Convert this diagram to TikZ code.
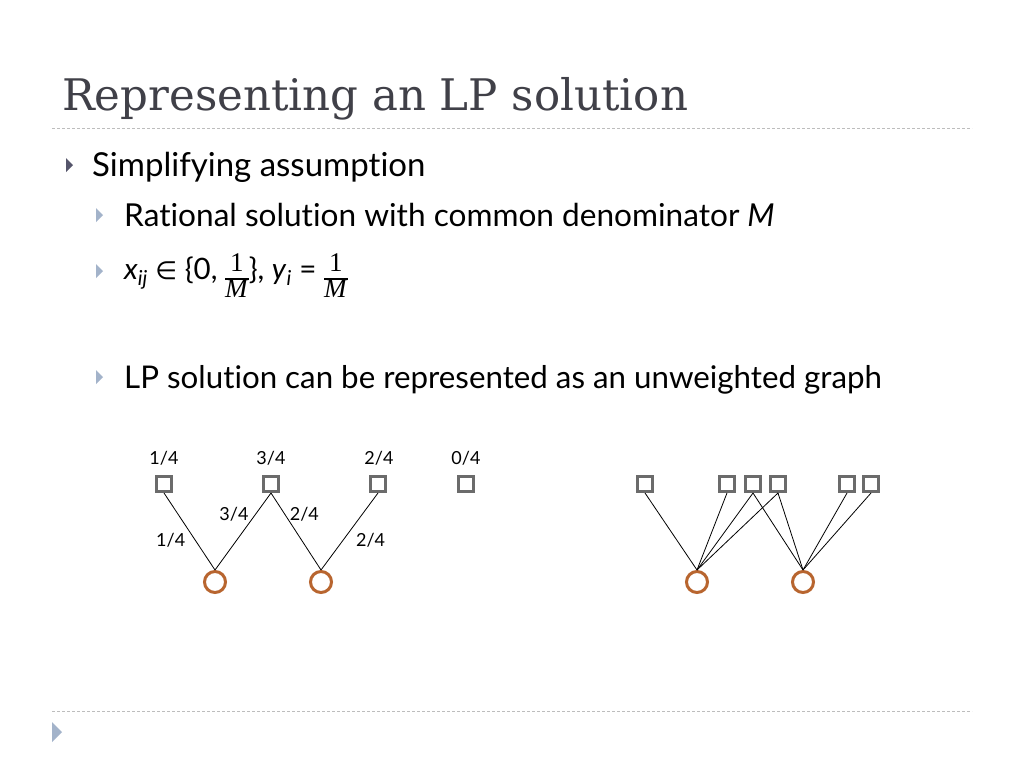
\documentclass[tikz,border=0pt]{standalone}
\usepackage{fontspec}
\setmainfont[Ligatures=CommonOff]{Lato}
\newfontfamily\titlefont{DejaVu Serif}
\newfontfamily\fracfont{Liberation Serif}
\newfontfamily\symfont{DejaVu Sans}
\definecolor{titlegray}{HTML}{404048}
\definecolor{rulegray}{HTML}{BDBDBD}
\definecolor{bulletdark}{HTML}{55556B}
\definecolor{bulletlight}{HTML}{A3B3CA}
\definecolor{facgray}{HTML}{6B6B6B}
\definecolor{cliorange}{HTML}{B8652F}
\newcommand{\fracM}{\raisebox{-6pt}{\fontsize{27}{23}\fracfont\selectfont\setlength{\arrayrulewidth}{1.3pt}%
  \renewcommand{\arraystretch}{1}\begin{tabular}{@{}c@{}}1\\\hline\textit{M}\end{tabular}}}
\begin{document}
\begin{tikzpicture}[x=1pt,y=-1pt,
    fac/.style={draw=facgray, line width=3pt, rectangle, minimum size=15pt, inner sep=0pt},
    cli/.style={draw=cliorange, line width=3pt, circle, minimum size=21pt, inner sep=0pt},
    wt/.style={font=\fontsize{18}{22}\selectfont, inner sep=1pt},
    txtA/.style={anchor=base west, inner sep=0pt, font=\fontsize{33}{38}\selectfont},
    txtB/.style={anchor=base west, inner sep=0pt, font=\fontsize{31.6}{36}\selectfont},
    edge/.style={line width=0.8pt}]
    \fill[white] (0,0) rectangle (1024,768);
    \useasboundingbox (0,0) rectangle (1024,768);

    % title and rules
    \node[anchor=base west, inner sep=0pt, text=titlegray, font=\titlefont\fontsize{43.5}{50}\selectfont] (title) at (62,110) {Representing an LP solution};
    \draw[rulegray, line width=1pt, dash pattern=on 3pt off 2pt] (52,128) -- (972,128);
    \draw[rulegray, line width=1pt, dash pattern=on 3pt off 2pt] (52,711) -- (972,711);
    \fill[bulletlight] (52,722) -- (62,732) -- (52,742) -- cycle;

    % bullets
    \fill[bulletdark] (66,158) -- (73,165) -- (66,172) -- cycle;
    \fill[bulletlight] (96,208) -- (103,215) -- (96,222) -- cycle;
    \fill[bulletlight] (96,264) -- (103,271) -- (96,278) -- cycle;
    \fill[bulletlight] (96,370) -- (103,377) -- (96,384) -- cycle;
    \node[txtA] (b1) at (92,176) {Simplifying assumption};
    \node[txtB] (b2) at (124,226) {Rational solution with common denominator \textit{M}};
    \node[txtB, font=\fontsize{29.5}{34}\selectfont] (b3) at (124,279) {\textit{x}\textsubscript{\textit{ij}} {\symfont\fontsize{25}{30}\selectfont ∈} \{0, \fracM\}, \textit{y}\textsubscript{\textit{i}} = \fracM};
    \node[txtB, font=\fontsize{31.3}{36}\selectfont] (b4) at (124,388) {LP solution can be represented as an unweighted graph};

    % fractional solution
    \node[fac] (s1) at (164,484) {};
    \node[fac] (s2) at (271,484) {};
    \node[fac] (s3) at (378,484) {};
    \node[fac] (s4) at (466,484) {};
    \node[cli] (c1) at (215,582) {};
    \node[cli] (c2) at (321,582) {};
    \node[wt] at (164,458) {1/4};
    \node[wt] at (271,458) {3/4};
    \node[wt] at (379,458) {2/4};
    \node[wt] at (466,458) {0/4};

    \draw[edge] (s1.south) -- node[wt, pos=0.62, left=9pt] {1/4} (c1.north);
    \draw[edge] (c1.north) -- node[wt, pos=0.73, left=6pt] {3/4} (s2.south);
    \draw[edge] (s2.south) -- node[wt, pos=0.27, right=4pt] {2/4} (c2.north);
    \draw[edge] (c2.north) -- node[wt, pos=0.38, right=12pt] {2/4} (s3.south);

    % unweighted graph
    \node[fac] (u1) at (645,484) {};
    \node[fac] (u2) at (727,484) {};
    \node[fac] (u3) at (753,484) {};
    \node[fac] (u4) at (778,484) {};
    \node[fac] (u5) at (847,484) {};
    \node[fac] (u6) at (871,484) {};
    \node[cli] (d1) at (697,582) {};
    \node[cli] (d2) at (803,582) {};

    \foreach \u in {u1,u2,u3,u4} \draw[edge] (\u.south) -- (d1.north);
    \foreach \u in {u3,u4,u5,u6} \draw[edge] (\u.south) -- (d2.north);
\end{tikzpicture}
\end{document}
